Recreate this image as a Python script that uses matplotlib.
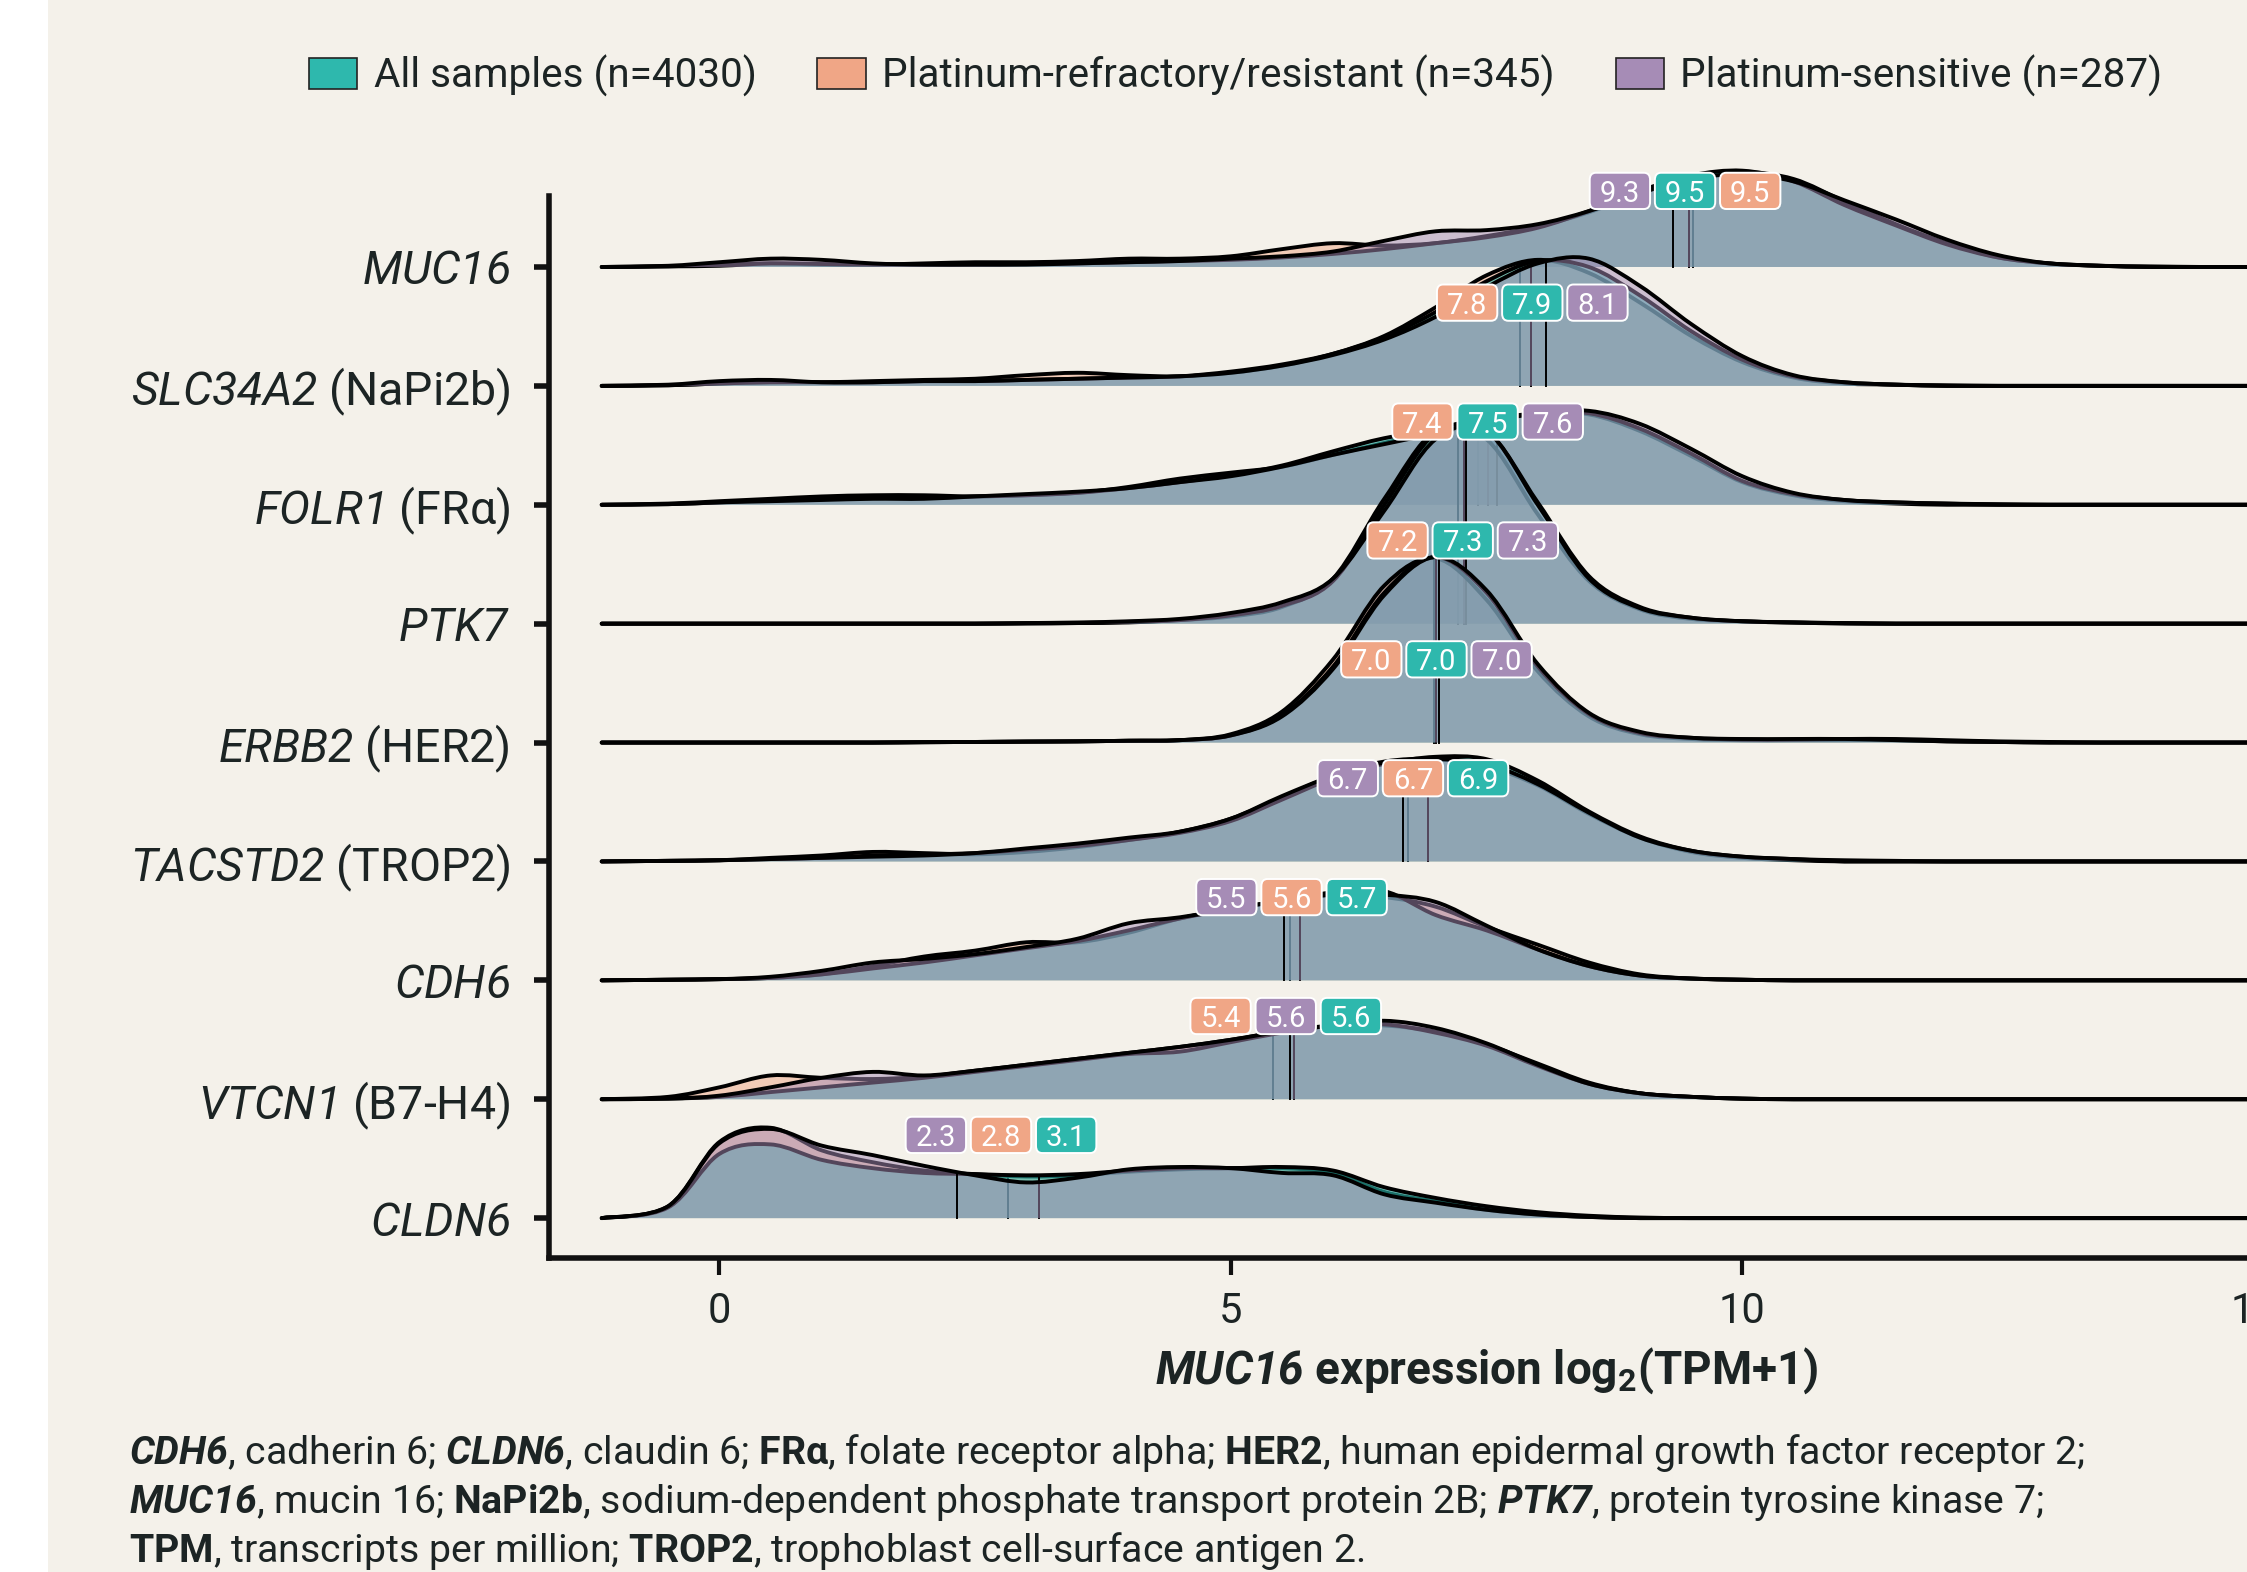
import numpy as np
import matplotlib
matplotlib.use("Agg")
import matplotlib.pyplot as plt
from matplotlib.path import Path
from matplotlib.patches import PathPatch, FancyBboxPatch, Patch, Rectangle

plt.rcParams['font.family'] = ['Roboto', 'DejaVu Sans']
plt.rcParams['mathtext.fontset'] = 'custom'
plt.rcParams['mathtext.rm'] = 'Roboto'
plt.rcParams['mathtext.it'] = 'Roboto:italic'
plt.rcParams['mathtext.sf'] = 'Roboto:italic'
plt.rcParams['mathtext.bf'] = 'Roboto:italic:bold'
plt.rcParams['mathtext.tt'] = 'Roboto:bold'

# ---- data ----
GENES = ['MUC16', 'SLC34A2', 'FOLR1', 'PTK7', 'ERBB2', 'TACSTD2', 'CDH6', 'VTCN1', 'CLDN6']
PROTEINS = ['', 'NaPi2b', 'FRα', '', 'HER2', 'TROP2', '', 'B7-H4', '']
GROUPS = ['All samples (n=4030)', 'Platinum-refractory/resistant (n=345)', 'Platinum-sensitive (n=287)']

# density heights read at these x positions (ridge spacing = 1)
GRID = np.r_[-1.15, np.arange(-0.5, 15.01, 0.5)]

DENS_ALL = {
    'MUC16':   [0, .005, .01, .03, .025, .02, .02, .02, .025, .03, .04, .05, .06, .08, .11, .15, .20, .25, .33, .47, .64, .77, .81, .72, .52, .35, .19, .08, .03, .01, .005, 0, 0],
    'SLC34A2': [0, .005, .02, .03, .03, .03, .04, .04, .05, .06, .07, .08, .12, .18, .27, .41, .62, .88, 1.05, 1.0, .76, .46, .22, .08, .03, .01, .005, 0, 0, 0, 0, 0, 0],
    'FOLR1':   [0, .005, .02, .04, .05, .06, .06, .07, .08, .10, .14, .19, .25, .33, .45, .56, .63, .70, .77, .77, .64, .43, .20, .09, .04, .02, .01, .005, 0, 0, 0, 0, 0],
    'PTK7':    [0, 0, 0, 0, 0, 0, 0, 0, .002, .005, .015, .03, .07, .15, .36, 1.0, 1.6, 1.62, 1.02, .40, .14, .05, .02, .01, .005, 0, 0, 0, 0, 0, 0, 0, 0],
    'ERBB2':   [0, 0, 0, 0, 0, 0, .003, .005, .008, .01, .015, .02, .06, .23, .64, 1.26, 1.56, 1.26, .64, .24, .08, .04, .025, .025, .03, .03, .02, .01, .005, 0, 0, 0, 0],
    'TACSTD2': [0, .005, .01, .02, .03, .05, .06, .07, .10, .13, .18, .24, .34, .52, .70, .82, .88, .86, .68, .42, .21, .09, .04, .02, .01, .005, 0, 0, 0, 0, 0, 0, 0],
    'CDH6':    [0, .005, .01, .02, .05, .10, .15, .21, .27, .33, .42, .52, .60, .67, .74, .75, .55, .42, .26, .12, .04, .015, .005, 0, 0, 0, 0, 0, 0, 0, 0, 0, 0],
    'VTCN1':   [0, .005, .02, .06, .10, .14, .18, .23, .28, .33, .38, .40, .48, .56, .62, .63, .56, .45, .28, .13, .05, .02, .005, 0, 0, 0, 0, 0, 0, 0, 0, 0, 0],
    'CLDN6':   [0, .09, .54, .62, .49, .42, .38, .37, .36, .37, .40, .42, .42, .43, .40, .26, .17, .10, .05, .02, .005, 0, 0, 0, 0, 0, 0, 0, 0, 0, 0, 0, 0],
}
DENS_REF = {
    'MUC16':   [0, .005, .02, .03, .02, .02, .03, .04, .04, .05, .07, .07, .09, .15, .20, .18, .20, .26, .34, .46, .62, .76, .80, .74, .55, .36, .20, .08, .03, .01, 0, 0, 0],
    'SLC34A2': [0, .005, .02, .03, .03, .04, .05, .06, .09, .11, .09, .08, .11, .17, .27, .42, .66, .93, 1.06, .95, .70, .42, .20, .07, .02, .01, 0, 0, 0, 0, 0, 0, 0],
    'FOLR1':   [0, .01, .03, .05, .07, .08, .08, .07, .08, .10, .15, .22, .27, .32, .42, .52, .62, .71, .77, .76, .62, .41, .19, .08, .03, .01, 0, 0, 0, 0, 0, 0, 0],
    'PTK7':    [0, 0, 0, 0, 0, 0, 0, 0, .002, .005, .01, .03, .06, .14, .38, 1.05, 1.62, 1.55, .92, .36, .12, .04, .02, .01, 0, 0, 0, 0, 0, 0, 0, 0, 0],
    'ERBB2':   [0, 0, 0, 0, 0, 0, .003, .005, .008, .01, .015, .02, .07, .26, .70, 1.32, 1.55, 1.20, .60, .22, .07, .03, .02, .02, .02, .02, .01, .005, 0, 0, 0, 0, 0],
    'TACSTD2': [0, .005, .01, .03, .05, .08, .07, .06, .08, .12, .18, .25, .36, .54, .72, .84, .86, .80, .64, .40, .20, .08, .03, .01, 0, 0, 0, 0, 0, 0, 0, 0, 0],
    'CDH6':    [0, .005, .01, .02, .05, .12, .20, .25, .32, .32, .40, .52, .60, .66, .72, .70, .62, .45, .30, .15, .05, .015, .005, 0, 0, 0, 0, 0, 0, 0, 0, 0, 0],
    'VTCN1':   [0, .02, .10, .20, .18, .17, .19, .24, .29, .34, .39, .44, .50, .57, .62, .62, .57, .46, .30, .14, .05, .02, .005, 0, 0, 0, 0, 0, 0, 0, 0, 0, 0],
    'CLDN6':   [0, .10, .64, .76, .57, .47, .40, .37, .35, .36, .39, .41, .42, .42, .38, .22, .14, .07, .03, .01, 0, 0, 0, 0, 0, 0, 0, 0, 0, 0, 0, 0, 0],
}
DENS_SENS = {
    'MUC16':   [0, .01, .04, .07, .06, .03, .02, .02, .02, .03, .04, .05, .07, .09, .13, .22, .30, .31, .36, .47, .62, .74, .78, .72, .56, .40, .23, .10, .03, .01, 0, 0, 0],
    'SLC34A2': [0, .01, .04, .05, .03, .03, .04, .04, .05, .06, .07, .08, .11, .17, .26, .39, .58, .83, 1.03, 1.07, .84, .52, .25, .09, .03, .01, 0, 0, 0, 0, 0, 0, 0],
    'FOLR1':   [0, .005, .02, .03, .04, .05, .05, .07, .09, .11, .14, .19, .24, .32, .42, .51, .60, .69, .77, .79, .68, .47, .24, .10, .04, .02, .01, 0, 0, 0, 0, 0, 0],
    'PTK7':    [0, 0, 0, 0, 0, 0, 0, 0, .005, .01, .02, .04, .09, .18, .38, .95, 1.55, 1.62, 1.0, .38, .13, .05, .02, .01, .005, 0, 0, 0, 0, 0, 0, 0, 0],
    'ERBB2':   [0, 0, 0, 0, 0, 0, .003, .005, .008, .01, .015, .02, .06, .22, .62, 1.24, 1.56, 1.28, .66, .25, .09, .04, .03, .03, .03, .02, .01, .005, 0, 0, 0, 0, 0],
    'TACSTD2': [0, .005, .01, .02, .03, .04, .05, .07, .11, .15, .20, .25, .36, .55, .72, .83, .86, .82, .65, .41, .20, .09, .04, .02, 0, 0, 0, 0, 0, 0, 0, 0, 0],
    'CDH6':    [0, .005, .01, .03, .08, .15, .18, .22, .28, .35, .48, .53, .60, .67, .72, .72, .66, .46, .26, .12, .04, .015, .005, 0, 0, 0, 0, 0, 0, 0, 0, 0, 0],
    'VTCN1':   [0, .005, .03, .10, .18, .23, .20, .24, .29, .34, .39, .44, .50, .57, .62, .66, .60, .47, .29, .13, .05, .02, .005, 0, 0, 0, 0, 0, 0, 0, 0, 0, 0],
    'CLDN6':   [0, .10, .63, .75, .61, .53, .44, .36, .30, .34, .41, .43, .42, .38, .36, .20, .13, .07, .03, .01, 0, 0, 0, 0, 0, 0, 0, 0, 0, 0, 0, 0, 0],
}

# medians, same gene order
MED_ALL = [9.48, 7.93, 7.51, 7.28, 7.01, 6.93, 5.68, 5.62, 3.12]
MED_REF = [9.52, 7.83, 7.42, 7.22, 6.99, 6.73, 5.58, 5.41, 2.82]
MED_SENS = [9.32, 8.08, 7.60, 7.30, 7.03, 6.68, 5.52, 5.58, 2.32]

XTICKS = [0, 5, 10, 15]

# ---- style ----
BG = '#F4F1EA'
TEAL = '#2EB8AD'
ORANGE = '#F0A686'
PURPLE = '#A68CB6'
INK = '#1c2424'


def spline(x, y):
    # Catmull-Rom curve through the read points, as cubic bezier segments
    pts = np.column_stack([x, y])
    n = len(pts)
    verts = [pts[0]]
    for i in range(n - 1):
        p0 = pts[max(i - 1, 0)]
        p1, p2 = pts[i], pts[i + 1]
        p3 = pts[min(i + 2, n - 1)]
        verts += [p1 + (p2 - p0) / 6, p2 - (p3 - p1) / 6, p2]
    verts = np.array(verts)
    verts[:, 1] = np.maximum(verts[:, 1], 0)
    codes = [Path.MOVETO] + [Path.CURVE4] * (3 * (n - 1))
    return verts, codes


fig = plt.figure(figsize=(22.47, 15.72), dpi=100, facecolor=BG)
fig.add_artist(Rectangle((0, 0), 48 / 2247, 1, transform=fig.transFigure,
                         fc='white', ec='none', zorder=-10))
ax = fig.add_axes([0.2443, 0.1997, 0.7815, 0.7061])
ax.set_facecolor('none')

# draw order inside a ridge: refractory, all, sensitive
layers = [(DENS_REF, MED_REF, ORANGE, 0.5), (DENS_ALL, MED_ALL, TEAL, 0.62),
          (DENS_SENS, MED_SENS, PURPLE, 0.5)]

n = len(GENES)
z = 10
for i, g in enumerate(GENES):
    base = n - 1 - i
    for dens, meds, col, alpha in layers:
        d = np.array(dens[g], dtype=float)
        v, c = spline(GRID, d)
        v[:, 1] += base
        fv = np.vstack([v, [[GRID[-1], base], [GRID[0], base], [GRID[0], base]]])
        fc = c + [Path.LINETO, Path.LINETO, Path.CLOSEPOLY]
        ax.add_patch(PathPatch(Path(fv, fc), fc=col, ec='none', alpha=alpha, zorder=z))
        ax.add_patch(PathPatch(Path(v, c), fc='none', ec='black', lw=2.8,
                               capstyle='round', joinstyle='round', zorder=z + 0.2))
        m = meds[i]
        h = np.interp(m, GRID, d)
        ax.plot([m, m], [base, base + h], color='black', lw=1.4, zorder=z + 0.1)
        z += 1

    # median labels, sorted by value, centred on the mean of the medians
    trio = sorted([(MED_ALL[i], TEAL), (MED_REF[i], ORANGE), (MED_SENS[i], PURPLE)],
                  key=lambda t: t[0])
    cx0 = np.mean([t[0] for t in trio])
    ly = base + (0.64 if g == 'MUC16' else 0.70)
    bw, bh, step = 0.59, 0.305, 0.637
    for k, (m, col) in enumerate(trio):
        cx = cx0 + (k - 1) * step
        ax.add_patch(FancyBboxPatch((cx - bw / 2, ly - bh / 2), bw, bh,
                                    boxstyle='round,pad=0,rounding_size=0.06',
                                    fc=col, ec='white', lw=1.4, zorder=300))
        ax.text(cx, ly, f'{m:.1f}', color='white', fontsize=21,
                ha='center', va='center_baseline', zorder=301)

ax.set_xlim(-1.666, 15.5)
ax.set_ylim(-0.336, 9.0)

ylabels = []
for g, p in zip(GENES, PROTEINS):
    s = f'$\\mathsf{{{g}}}$'
    if p:
        s += f' ({p})'
    ylabels.append(s)
ax.set_yticks(np.arange(n - 1, -1, -1))
ax.set_yticklabels(ylabels)
ax.set_xticks(XTICKS)
ax.set_xticklabels([str(t) for t in XTICKS])

for s in ['top', 'right']:
    ax.spines[s].set_visible(False)
for s in ['left', 'bottom']:
    ax.spines[s].set_linewidth(4.0)
    ax.spines[s].set_color('#111111')
    ax.spines[s].set_zorder(400)
ax.spines['left'].set_bounds(-0.336, 8.6)
ax.tick_params(axis='y', length=11, width=4, color='#111111', pad=17,
               labelsize=33.5, labelcolor=INK)
ax.tick_params(axis='x', length=12, width=3, color='#111111', pad=12,
               labelsize=30, labelcolor=INK)

ax.set_xlabel(r'$\mathbf{MUC16}$ expression log$_{\mathtt{2}}$(TPM+1)',
              fontsize=33, fontweight='bold', color=INK)
ax.xaxis.set_label_coords(0.534, -0.1015)
ax.xaxis.label.set_va('center')

# legend
handles = [Patch(fc=TEAL, ec='#222222', lw=1.2),
           Patch(fc=ORANGE, ec='#222222', lw=1.2),
           Patch(fc=PURPLE, ec='#222222', lw=1.2)]
fig.legend(handles, GROUPS, loc='center', bbox_to_anchor=(0.5499, 0.952), ncol=3,
           frameon=False, fontsize=29.2, handlelength=1.2, handleheight=0.8,
           handletextpad=0.4, columnspacing=1.5, labelcolor=INK)

# footnote
foot = [
    r'$\mathbf{CDH6}$, cadherin 6; $\mathbf{CLDN6}$, claudin 6; $\mathtt{FR\alpha}$, folate receptor alpha; $\mathtt{HER2}$, human epidermal growth factor receptor 2;',
    r'$\mathbf{MUC16}$, mucin 16; $\mathtt{NaPi2b}$, sodium-dependent phosphate transport protein 2B; $\mathbf{PTK7}$, protein tyrosine kinase 7;',
    r'$\mathtt{TPM}$, transcripts per million; $\mathtt{TROP2}$, trophoblast cell-surface antigen 2.',
]
for j, line in enumerate(foot):
    fig.text(0.0574, 1 - (1464 + 49 * j) / 1572, line, fontsize=28.3,
             color=INK, ha='left', va='baseline')

fig.savefig('out.png', dpi=100, facecolor=fig.get_facecolor())
